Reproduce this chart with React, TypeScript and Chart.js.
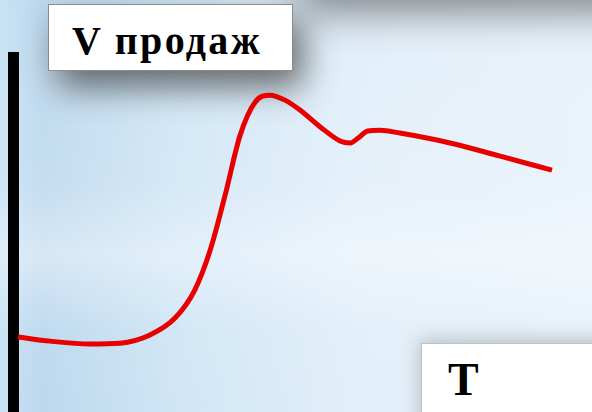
import React, { useEffect, useRef } from "react";
import { Chart, registerables } from "chart.js";

Chart.register(...registerables);

// T (time, 0..100) and V (sales volume, 0..100)
const timeT = [0, 6, 13.5, 19.1, 24.7, 29.4, 33.1, 36, 38.8, 41.6, 44.4, 47.2, 50, 52.8, 56.6, 60.3, 62.2, 63.7, 65.5, 67.8, 71.5, 80.9, 90.3, 100];
const salesV = [18.2, 17.2, 16.5, 16.7, 18.7, 22.8, 29.6, 39.3, 52.7, 67.2, 75.2, 76.9, 75.7, 73.3, 69.2, 65.8, 65.3, 66.5, 68.2, 68.4, 67.7, 65.3, 62.1, 58.7];
const yLabel = "V продаж";
const xLabel = "T";

const backgroundPlugin = {
  id: "bgPlugin",
  beforeDraw(chart: any) {
    const { ctx, width, height } = chart;
    ctx.save();
    const g = ctx.createLinearGradient(0, 0, width, 0);
    g.addColorStop(0, "#c9e2f5");
    g.addColorStop(0.07, "#bcd8ee");
    g.addColorStop(0.3, "#d0e6f6");
    g.addColorStop(0.6, "#e2eff9");
    g.addColorStop(1, "#e8f2fb");
    ctx.fillStyle = g;
    ctx.fillRect(0, 0, width, height);
    const v = ctx.createLinearGradient(0, 0, 0, height);
    v.addColorStop(0, "rgba(255,255,255,0)");
    v.addColorStop(0.45, "rgba(255,255,255,0.12)");
    v.addColorStop(0.62, "rgba(255,255,255,0.4)");
    v.addColorStop(0.8, "rgba(255,255,255,0.05)");
    v.addColorStop(1, "rgba(255,255,255,0)");
    ctx.fillStyle = v;
    ctx.fillRect(0, 0, width, height);

    const shadow = (x: number, y: number, w: number, h: number, dx: number, dy: number, blur: number, color: string) => {
      ctx.save();
      ctx.shadowColor = color;
      ctx.shadowBlur = blur;
      ctx.shadowOffsetX = dx + 10000;
      ctx.shadowOffsetY = dy;
      ctx.fillStyle = "#000";
      ctx.fillRect(x - 10000, y, w, h);
      ctx.restore();
    };
    shadow(48, 4, 245, 67, 10, 16, 34, "rgba(60,60,60,0.75)");
    shadow(300, -80, 430, 80, 0, 12, 40, "rgba(60,60,60,0.6)");
    shadow(421, 343, 200, 100, -2, -4, 18, "rgba(80,80,80,0.3)");

    // vertical axis bar
    ctx.fillStyle = "#000";
    ctx.fillRect(8, 52, 11, height - 52);
    ctx.restore();
  },
};

export default function App() {
  const ref = useRef<HTMLCanvasElement>(null);
  useEffect(() => {
    const chart = new Chart(ref.current!, {
      type: "line",
      data: {
        datasets: [
          {
            data: timeT.map((t, i) => ({ x: t, y: salesV[i] })),
            borderColor: "#e80000",
            borderWidth: 5,
            pointRadius: 0,
            cubicInterpolationMode: "monotone",
            fill: false,
            clip: false,
          } as any,
        ],
      },
      options: {
        responsive: false,
        animation: false,
        events: [],
        layout: { padding: { left: 18, right: 40, top: 0, bottom: 0 } },
        plugins: { legend: { display: false }, tooltip: { enabled: false } },
        scales: {
          x: { type: "linear", min: 0, max: 100, display: false },
          y: { type: "linear", min: 0, max: 100, display: false },
        },
      },
      plugins: [backgroundPlugin],
    });
    return () => chart.destroy();
  }, []);

  const serif = "'Liberation Serif', 'Times New Roman', serif";
  return (
    <div style={{ position: "fixed", left: 0, top: 0, width: 592, height: 412, overflow: "hidden" }}>
      <canvas ref={ref} width={592} height={412} style={{ position: "absolute", left: 0, top: 0 }} />
      <div
        style={{
          position: "absolute",
          left: 48,
          top: 4,
          width: 243,
          height: 65,
          background: "#fff",
          border: "1px solid #8c8c8c",
        }}
      />
      <div
        style={{
          position: "absolute",
          left: 72,
          top: 21,
          fontFamily: serif,
          fontWeight: "bold",
          fontSize: 40,
          lineHeight: "40px",
          letterSpacing: "2.3px",
          color: "#000",
          whiteSpace: "nowrap",
        }}
      >
        {yLabel}
      </div>
      <div
        style={{
          position: "absolute",
          left: 421,
          top: 343,
          width: 200,
          height: 100,
          background: "#fff",
          border: "1px solid #b8c4cc",
        }}
      />
      <div
        style={{
          position: "absolute",
          left: 448,
          top: 357,
          fontFamily: serif,
          fontWeight: "bold",
          fontSize: 46,
          lineHeight: "46px",
          color: "#000",
        }}
      >
        {xLabel}
      </div>
    </div>
  );
}
